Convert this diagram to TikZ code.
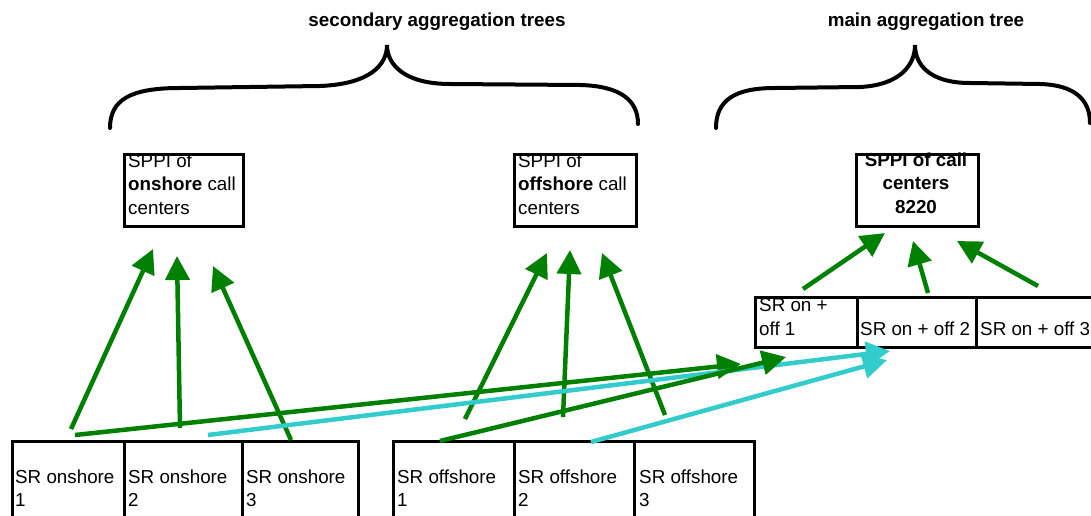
\documentclass[tikz,border=0pt]{standalone}
\usepackage{fontspec}
\setmainfont{Liberation Sans}
\usetikzlibrary{arrows.meta,calc}
\definecolor{flowgreen}{RGB}{0,128,0}
\definecolor{flowcyan}{RGB}{51,204,204}

\begin{document}
\begin{tikzpicture}[x=1pt,y=-1pt,
  cell/.style={draw=black, line width=3pt, rectangle, inner sep=0pt, anchor=north west},
  lbl/.style={anchor=base west, inner sep=0pt, align=left, font=\fontsize{18.8}{23.5}\selectfont},
  ctrlbl/.style={anchor=base, inner sep=0pt, align=center, font=\bfseries\fontsize{18.8}{23.5}\selectfont},
  heading/.style={anchor=base, inner sep=0pt, font=\bfseries\fontsize{18.8}{23.5}\selectfont},
  brace/.style={draw=black, line width=4pt, line cap=round},
  feed/.style={line width=4.5pt, -{Triangle[length=24pt,width=24pt]}},
  gfeed/.style={feed, draw=flowgreen, fill=flowgreen},
  cfeed/.style={feed, draw=flowcyan, fill=flowcyan}]

% canvas
\useasboundingbox (0,0) rectangle (1091,516);
\fill[white] (0,0) rectangle (1091,516);
\clip (0,0) rectangle (1091,516);

% headings
\node[heading] (sechead) at (437,27) {secondary aggregation trees};
\node[heading] (mainhead) at (926,27) {main aggregation tree};

% curly braces
\draw[brace] (110,128) .. controls (110,100) and (130,88) .. (180,88)
  -- (320,86) .. controls (370,84) and (387,65) .. (387,45)
  .. controls (387,65) and (405,84) .. (450,84)
  -- (580,85) .. controls (620,86) and (638,100) .. (638,124);
\draw[brace] (716,128) .. controls (716,100) and (735,88) .. (775,88)
  -- (860,87) .. controls (900,85) and (915,65) .. (915,45)
  .. controls (915,65) and (930,83) .. (970,83)
  -- (1040,84) .. controls (1075,85) and (1090,100) .. (1090,123);

% aggregate boxes (labels are anchored on their last baseline)
\node[cell, minimum width=119pt, minimum height=72pt] (sppion) at (123,153) {};
\node[cell, minimum width=122pt, minimum height=72pt] (sppioff) at (513,153) {};
\node[cell, minimum width=122pt, minimum height=72pt] (sppimain) at (855,153) {};
\node[lbl] (sppiont) at (128,214) {SPPI of\\\textbf{onshore} call\\centers};
\node[lbl] (sppiofft) at (518,214) {SPPI of\\\textbf{offshore} call\\centers};
\node[ctrlbl] (sppimaint) at (916,213) {SPPI of call\\centers\\8220};

% combined on + off row
\node[cell, minimum width=102pt, minimum height=50pt] (mix1) at (754,296) {};
\node[cell, minimum width=119pt, minimum height=50pt] (mix2) at (856,296) {};
\node[cell, minimum width=130pt, minimum height=50pt] (mix3) at (975,296) {};
\node[lbl] (mix1t) at (759,335) {SR on +\\off 1};
\node[lbl] (mix2t) at (860,335) {SR on + off 2};
\node[lbl] (mix3t) at (980,335) {SR on + off 3};

% onshore row
\node[cell, minimum width=112pt, minimum height=105pt] (on1) at (11,440) {};
\node[cell, minimum width=118pt, minimum height=105pt] (on2) at (123,440) {};
\node[cell, minimum width=116pt, minimum height=105pt] (on3) at (241,440) {};
\node[lbl] (on1t) at (15,506.5) {SR onshore\\1};
\node[lbl] (on2t) at (128,506.5) {SR onshore\\2};
\node[lbl] (on3t) at (246,506.5) {SR onshore\\3};

% offshore row
\node[cell, minimum width=121pt, minimum height=105pt] (off1) at (392,440) {};
\node[cell, minimum width=120pt, minimum height=105pt] (off2) at (513,440) {};
\node[cell, minimum width=120pt, minimum height=105pt] (off3) at (633,440) {};
\node[lbl] (off1t) at (397,506.5) {SR offshore\\1};
\node[lbl] (off2t) at (518,506.5) {SR offshore\\2};
\node[lbl] (off3t) at (639,506.5) {SR offshore\\3};

% secondary aggregation: onshore
\draw[gfeed] ($(on1.north west)+(60,-11)$) -- ($(sppion.south west)+(30,21)$);
\draw[gfeed] ($(on2.north west)+(57,-12)$) -- ($(sppion.south west)+(54,28)$);
\draw[gfeed] ($(on3.north west)+(50,0)$) -- ($(sppion.south west)+(90,38)$);

% secondary aggregation: offshore
\draw[gfeed] ($(off1.north west)+(73,-21)$) -- ($(sppioff.south west)+(34,25)$);
\draw[gfeed] ($(off2.north west)+(50,-23)$) -- ($(sppioff.south west)+(57,22)$);
\draw[gfeed] ($(off3.north west)+(32,-25)$) -- ($(sppioff.south west)+(89,25)$);

% elementary series into the combined row
\draw[gfeed] ($(on1.north west)+(64,-5)$) -- ($(mix1.south west)+(-13,15)$);
\draw[cfeed] ($(on2.north west)+(85,-5)$) -- ($(mix2.south west)+(34,2)$);
\draw[gfeed] ($(off1.north west)+(48,1)$) -- ($(mix1.south west)+(32,8)$);
\draw[cfeed] ($(off2.north west)+(78,2)$) -- ($(mix2.south west)+(31,11)$);

% main aggregation
\draw[gfeed] ($(mix1.north west)+(49,-7)$) -- ($(sppimain.south west)+(30,5)$);
\draw[gfeed] ($(mix2.north west)+(72,-3)$) -- ($(sppimain.south west)+(58,13)$);
\draw[gfeed] ($(mix3.north west)+(63,-10)$) -- ($(sppimain.south west)+(102,13)$);
\end{tikzpicture}
\end{document}
